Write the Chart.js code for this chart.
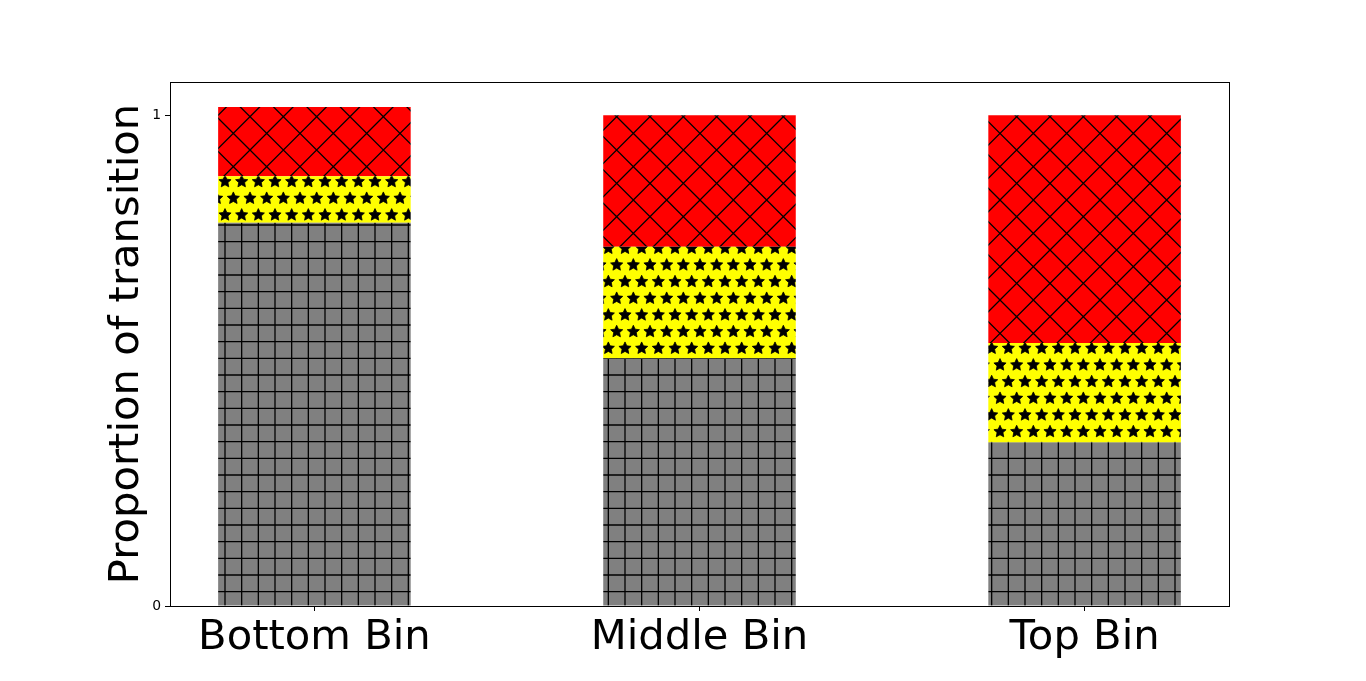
<!DOCTYPE html>
<html>
<head>
<meta charset="utf-8">
<title>Proportion of transition</title>
<script src="https://cdn.jsdelivr.net/npm/chart.js@4.4.1/dist/chart.umd.min.js"></script>
<style>
  html, body { margin: 0; padding: 0; background: #fff; }
  canvas { display: block; }
</style>
</head>
<body>
<canvas id="chart" width="1366" height="681"></canvas>
<script>
/* stacked proportion bars, matplotlib-style hatching */

const categories = ['Bottom Bin', 'Middle Bin', 'Top Bin'];
const xPositions = [0, 1, 2];
const grayValues = [0.781, 0.505, 0.333];
const yellowValues = [0.095, 0.227, 0.203];
const redValues = [0.141, 0.268, 0.464];
const yTicks = [0, 1];

const FONT = "'DejaVu Sans', sans-serif";

// ---- hatch tiles (100px = one matplotlib hatch unit at dpi 100)
function tile(bg, drawFn) {
  const c = document.createElement('canvas');
  c.width = 100; c.height = 100;
  const g = c.getContext('2d');
  g.fillStyle = bg;
  g.fillRect(0, 0, 100, 100);
  g.strokeStyle = '#000';
  g.fillStyle = '#000';
  g.lineWidth = 1.3;
  drawFn(g);
  return g.createPattern(c, 'repeat');
}

const step = 100 / 6;

const gridHatch = tile('#808080', g => {
  g.beginPath();
  for (let k = 0; k < 6; k++) {
    const p = step / 2 + k * step;
    g.moveTo(p, 0); g.lineTo(p, 100);
    g.moveTo(0, p); g.lineTo(100, p);
  }
  g.stroke();
});

function star(g, cx, cy, r) {
  const inner = r * 0.48;
  g.beginPath();
  for (let i = 0; i < 10; i++) {
    const a = -Math.PI / 2 + i * Math.PI / 5;
    const rr = i % 2 ? inner : r;
    const x = cx + rr * Math.cos(a), y = cy + rr * Math.sin(a);
    i ? g.lineTo(x, y) : g.moveTo(x, y);
  }
  g.closePath();
  g.fill();
  g.lineWidth = 0.8;
  g.stroke();
}

const starHatch = tile('#ffff00', g => {
  for (let k = -1; k <= 6; k++) {
    const y = 15 + k * step;
    const off = (k % 2 === 0) ? step / 2 : 0;
    for (let j = -1; j <= 6; j++) star(g, off + j * step, y, 6.4);
  }
});

const crossHatch = tile('#ff0000', g => {
  const d = 100 / 3;
  g.beginPath();
  for (let c = -200; c <= 300; c += d) {
    g.moveTo(c, 0); g.lineTo(c - 100, 100);
    g.moveTo(c, 0); g.lineTo(c + 100, 100);
  }
  g.stroke();
});

const pts = vals => vals.map((v, i) => ({x: xPositions[i], y: v}));

// black frame round the axes
const framePlugin = {
  id: 'frame',
  afterDraw(chart) {
    const {ctx, chartArea: a} = chart;
    ctx.save();
    ctx.strokeStyle = '#000';
    ctx.lineWidth = 1;
    ctx.strokeRect(Math.round(a.left) + 0.5, Math.round(a.top) + 0.5,
      Math.round(a.right - a.left), Math.round(a.bottom - a.top));
    ctx.restore();
  },
};

new Chart(document.getElementById('chart'), {
  type: 'bar',
  data: {
    datasets: [
      {label: 'gray', data: pts(grayValues), backgroundColor: gridHatch, borderWidth: 0},
      {label: 'yellow', data: pts(yellowValues), backgroundColor: starHatch, borderWidth: 0},
      {label: 'red', data: pts(redValues), backgroundColor: crossHatch, borderWidth: 0},
    ],
  },
  options: {
    responsive: false,
    animation: false,
    events: [],
    layout: {padding: {top: 82, right: 137, left: 0, bottom: 0}},
    datasets: {bar: {barPercentage: 0.5, categoryPercentage: 1}},
    plugins: {legend: {display: false}, tooltip: {enabled: false}},
    scales: {
      x: {
        type: 'linear',
        stacked: true,
        offset: false,
        min: -0.375,
        max: 2.375,
        afterBuildTicks: s => { s.ticks = xPositions.map(v => ({value: v})); },
        afterFit: s => { s.height = 75; },
        ticks: {
          color: '#000',
          font: {family: FONT, size: 41.7, lineHeight: 1},
          padding: 6,
          maxRotation: 0,
          autoSkip: false,
          callback: v => categories[v],
        },
        grid: {offset: false, drawOnChartArea: false, drawTicks: true, tickLength: 5, color: '#000'},
        border: {display: false},
      },
      y: {
        stacked: true,
        min: 0,
        max: 1.0679,
        afterBuildTicks: s => { s.ticks = yTicks.map(v => ({value: v})); },
        afterFit: s => { s.width = 170; },
        ticks: {
          color: '#000',
          font: {family: FONT, size: 13.9},
          padding: 4,
          callback: v => String(v),
        },
        grid: {drawOnChartArea: false, drawTicks: true, tickLength: 5, color: '#000'},
        border: {display: false},
        title: {
          display: true,
          text: 'Proportion of transition',
          color: '#000',
          font: {family: FONT, size: 41.7, lineHeight: 1.2},
          padding: {top: 102, bottom: 0},
        },
      },
    },
  },
  plugins: [framePlugin],
});
</script>
</body>
</html>
